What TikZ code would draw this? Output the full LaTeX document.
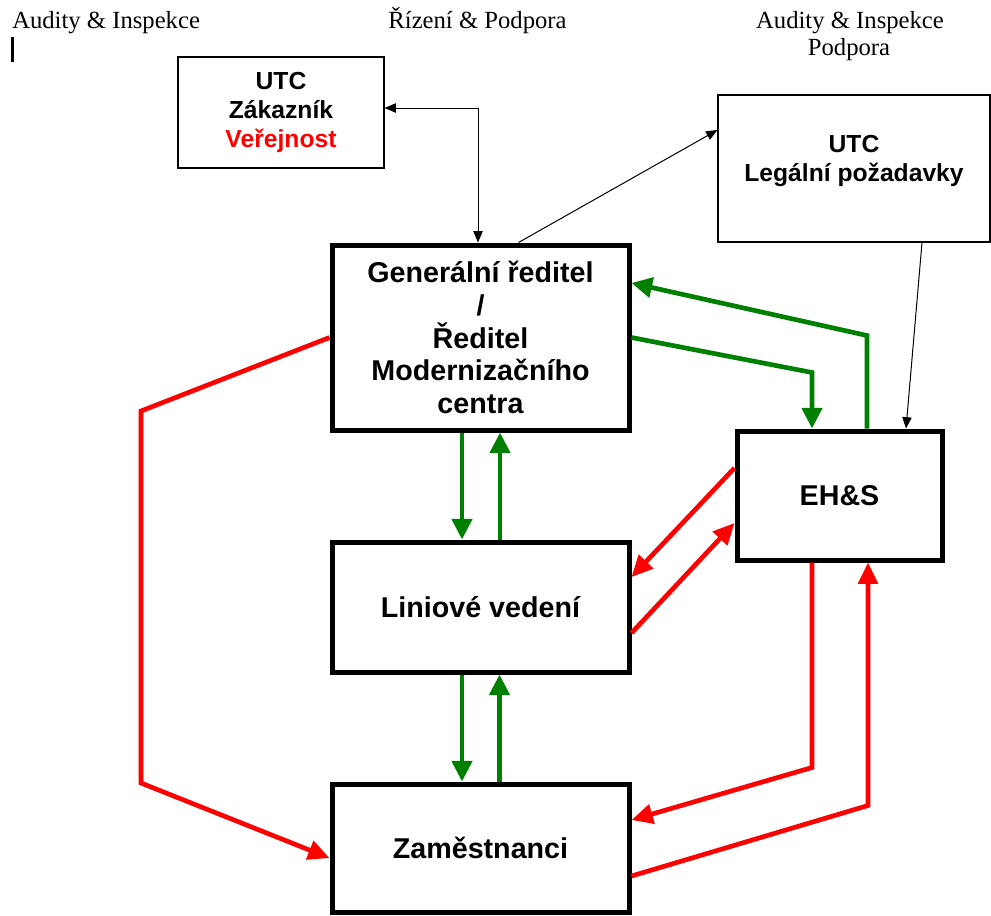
\documentclass[tikz,border=0pt]{standalone}
\usepackage{fontspec}
\setmainfont{Liberation Serif}
\setsansfont{Liberation Sans}
\usetikzlibrary{arrows.meta,calc}
\definecolor{dgreen}{RGB}{0,128,0}
\definecolor{bred}{RGB}{255,0,0}
\begin{document}
\begin{tikzpicture}[x=0.75pt,y=-0.75pt,
  bigbox/.style={draw=black,line width=3.75pt,rectangle,align=center,inner sep=0pt,
    font=\sffamily\bfseries\fontsize{21.5}{24.6}\selectfont},
  thinbox/.style={draw=black,line width=0.8pt,rectangle,align=center,inner sep=0pt,
    font=\sffamily\bfseries\fontsize{18.5}{22}\selectfont},
  hdr/.style={font=\fontsize{18.5}{22}\selectfont,inner sep=0pt},
  garrow/.style={draw=dgreen,line width=3.5pt,-{Triangle[length=15.5pt,width=15pt]}},
  rarrow/.style={draw=bred,line width=3.5pt,-{Triangle[length=16pt,width=14.5pt]}},
  tarrow/.style={draw=black,line width=0.75pt,-{Triangle[length=8.5pt,width=7pt]}}]
\fill[white] (0,0) rectangle (991,915);
\useasboundingbox (0,0) rectangle (991,915);

% headers
\node[hdr,anchor=base west] (h1) at (12,28) {Audity \& Inspekce};
\node[hdr,anchor=base] (h2) at (477.5,28) {Řízení \& Podpora};
\node[hdr,anchor=base] (h3) at (850,28) {Audity \& Inspekce};
\node[hdr,anchor=base] (h4) at (849,55) {Podpora};
\draw[line width=2.2pt] (12.5,37) -- (12.5,62);

% boxes
\node[bigbox,minimum width=222.75pt,minimum height=138.75pt] (main) at (480.5,337.5)
  {Generální ředitel\\/\\Ředitel\\Modernizačního\\centra};
\node[bigbox,minimum width=222.75pt,minimum height=97.5pt] (lin) at (480.5,607) {Liniové vedení};
\node[bigbox,minimum width=222.75pt,minimum height=96pt] (zam) at (480.5,848) {Zaměstnanci};
\node[bigbox,minimum width=153.75pt,minimum height=96.75pt] (ehs) at (839.5,495.5) {EH\&S};
\node[thinbox,minimum width=154.5pt,minimum height=83.25pt] (zak) at (281,112.5)
  {UTC\\Zákazník\\\textcolor{bred}{Veřejnost}};
\node[thinbox,minimum width=204pt,minimum height=110.25pt] (legal) at (854,168.5) {};
\node[thinbox,draw=none] (legaltxt) at (854,161) {UTC\\Legální požadavky};

% thin black connectors
\draw[tarrow,{Triangle[length=8.5pt,width=7pt]}-{Triangle[length=8.5pt,width=7pt]}]
  ($(zak.east)+(0,-4.5)$) -| ($(main.north)+(-2.5,0)$);
\draw[tarrow] ($(main.north)+(38,0)$) -- ($(legal.west)+(0,-38.5)$);
\draw[tarrow] ($(legal.south)+(68,0)$) -- ($(ehs.north)+(66.5,0)$);

% green connectors
\draw[garrow] ($(ehs.north)+(27.5,0)$) -- ($(ehs.north)+(27.5,-93)$) -- ($(main.east)+(0,-54.5)$);
\draw[garrow] (main.east) -- ($(ehs.north)+(-27.5,-56)$) -- ($(ehs.north)+(-27.5,0)$);
\draw[garrow] ($(main.south)+(-18.5,0)$) -- ($(lin.north)+(-18.5,0)$);
\draw[garrow] ($(lin.north)+(19.5,0)$) -- ($(main.south)+(19.5,0)$);
\draw[garrow] ($(lin.south)+(-18.5,0)$) -- ($(zam.north)+(-18.5,0)$);
\draw[garrow] ($(zam.north)+(19,0)$) -- ($(lin.south)+(19,0)$);

% red connectors
\draw[rarrow] (main.west) -- (141,411) -- (141,783) -- ($(zam.west)+(0,10)$);
\draw[rarrow] ($(ehs.west)+(0,-27.5)$) -- ($(lin.east)+(0,-30)$);
\draw[rarrow] ($(lin.east)+(0,26)$) -- ($(ehs.west)+(0,27.5)$);
\draw[rarrow] ($(ehs.south)+(-27.5,0)$) -- ($(ehs.south)+(-27.5,205)$) -- ($(zam.east)+(0,-28)$);
\draw[rarrow] ($(zam.east)+(0,28)$) -- ($(ehs.south)+(28.5,243)$) -- ($(ehs.south)+(28.5,0)$);
\end{tikzpicture}
\end{document}
